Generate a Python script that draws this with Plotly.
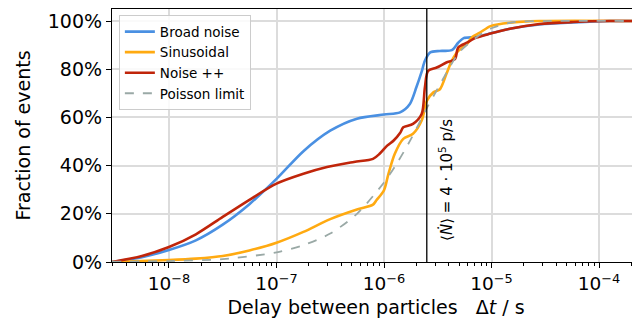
import plotly.graph_objects as go

# ---- data (delay in seconds, fraction of events) ----
broad_t = [2.95e-9, 5.6e-9, 1.0e-8, 1.78e-8, 3.16e-8, 5.6e-8, 1.0e-7, 1.78e-7, 3.16e-7,
           5.6e-7, 1.0e-6, 1.41e-6, 1.74e-6, 2.0e-6, 2.24e-6, 2.4e-6, 2.69e-6, 3.3e-6,
           4.27e-6, 4.9e-6, 5.5e-6, 7.2e-6, 1.05e-5, 1.48e-5, 2.8e-5, 5.75e-5, 1.26e-4, 2.5e-4]
broad_f = [0.0, 0.02, 0.05, 0.09, 0.155, 0.24, 0.345, 0.46, 0.545,
           0.595, 0.612, 0.621, 0.656, 0.725, 0.79, 0.835, 0.87, 0.876,
           0.879, 0.91, 0.929, 0.934, 0.952, 0.968, 0.986, 0.994, 1.0, 1.0]

sin_t = [2.95e-9, 1.0e-8, 1.78e-8, 3.16e-8, 5.6e-8, 1.0e-7, 1.78e-7, 3.16e-7, 5.6e-7,
         7.9e-7, 8.5e-7, 1.0e-6, 1.1e-6, 1.26e-6, 1.51e-6, 1.86e-6, 2.24e-6, 2.51e-6, 2.88e-6,
         3.31e-6, 3.8e-6, 4.27e-6, 4.9e-6, 5.9e-6, 6.6e-6, 7.8e-6, 9.8e-6, 1.48e-5, 2.8e-5, 2.5e-4]
sin_f = [0.0, 0.008, 0.014, 0.025, 0.048, 0.08, 0.125, 0.178, 0.218,
         0.238, 0.256, 0.298, 0.366, 0.449, 0.511, 0.532, 0.587, 0.67, 0.704,
         0.717, 0.78, 0.835, 0.876, 0.904, 0.934, 0.952, 0.979, 0.993, 1.0, 1.0]

noise_t = [2.95e-9, 5.6e-9, 1.0e-8, 1.78e-8, 3.16e-8, 5.6e-8, 1.0e-7, 1.78e-7, 2.95e-7,
           5.25e-7, 7.9e-7, 9.1e-7, 1.07e-6, 1.23e-6, 1.41e-6, 1.51e-6, 1.86e-6, 2.24e-6, 2.4e-6,
           2.57e-6, 3.09e-6, 3.8e-6, 4.57e-6, 4.9e-6, 5.9e-6, 7.2e-6, 9.8e-6, 1.48e-5, 2.8e-5,
           5.75e-5, 1.26e-4, 2.5e-4]
noise_f = [0.0, 0.025, 0.062, 0.115, 0.187, 0.258, 0.325, 0.366, 0.394,
           0.415, 0.428, 0.449, 0.483, 0.504, 0.535, 0.559, 0.573, 0.614, 0.724,
           0.793, 0.807, 0.828, 0.842, 0.89, 0.91, 0.931, 0.948, 0.968, 0.988,
           0.996, 1.0, 1.0]

poisson_t = [2.95e-9, 1.0e-8, 3.16e-8, 1.0e-7, 1.78e-7, 3.16e-7, 5.6e-7, 1.0e-6, 1.32e-6, 1.78e-6,
             2.51e-6, 3.16e-6, 3.98e-6, 5.0e-6, 7.1e-6, 1.0e-5, 1.58e-5, 3.16e-5, 2.5e-4]
poisson_f = [0.001, 0.004, 0.012, 0.04, 0.07, 0.118, 0.2, 0.33, 0.41, 0.51,
             0.64, 0.72, 0.80, 0.87, 0.93, 0.97, 0.995, 1.0, 1.0]

rate_t = [2.5e-6, 2.5e-6]   # 1 / (4e5 p/s)
rate_f = [0.0, 1.05]

x_tick_vals = [1e-8, 1e-7, 1e-6, 1e-5, 1e-4]
x_tick_text = ["10<sup>−8</sup>", "10<sup>−7</sup>", "10<sup>−6</sup>", "10<sup>−5</sup>", "10<sup>−4</sup>"]
x_decades = [1e-9, 1e-8, 1e-7, 1e-6, 1e-5, 1e-4]
x_minor_digits = [2, 3, 4, 5, 6, 7, 8, 9]
y_tick_vals = [0, 0.2, 0.4, 0.6, 0.8, 1.0]
y_tick_text = ["0%", "20%", "40%", "60%", "80%", "100%"]

x_minor_vals = [d * k for d in x_decades for k in x_minor_digits]

FONT = "DejaVu Sans"

fig = go.Figure()
fig.add_trace(go.Scatter(x=broad_t, y=broad_f, mode="lines", name="Broad noise",
                         line=dict(color="#4a90e2", width=2.6, shape="spline", smoothing=0.8)))
fig.add_trace(go.Scatter(x=sin_t, y=sin_f, mode="lines", name="Sinusoidal",
                         line=dict(color="#ffaa11", width=2.6, shape="spline", smoothing=0.8)))
fig.add_trace(go.Scatter(x=noise_t, y=noise_f, mode="lines", name="Noise ++",
                         line=dict(color="#c0250a", width=2.6, shape="spline", smoothing=0.8)))
fig.add_trace(go.Scatter(x=poisson_t, y=poisson_f, mode="lines", name="Poisson limit",
                         line=dict(color="#9aa9a6", width=1.8, dash="dash", shape="spline", smoothing=0.8)))
fig.add_trace(go.Scatter(x=rate_t, y=rate_f, mode="lines", showlegend=False,
                         line=dict(color="black", width=1.3), hoverinfo="skip"))

fig.add_annotation(x=-5.602, y=0.34, xref="x", yref="y", xanchor="left", yanchor="middle",
                   xshift=7, textangle=-90, showarrow=False,
                   text="⟨<i>Ṅ</i>⟩ = 4 · 10<sup>5</sup> p/s",
                   font=dict(family=FONT, size=15, color="black"))

# the page body adds an 8 px offset, so the figure is sized to fill the rest of the window
fig.update_layout(
    width=632, height=320,
    margin=dict(l=104, r=0, t=1, b=66, autoexpand=False),
    paper_bgcolor="white", plot_bgcolor="white",
    font=dict(family=FONT, size=19, color="black"),
    legend=dict(x=0.013, y=0.975, xanchor="left", yanchor="top",
                bgcolor="rgba(255,255,255,0.85)", bordercolor="#cccccc", borderwidth=1,
                font=dict(family=FONT, size=13.5), tracegroupgap=0, itemwidth=30),
)
fig.update_xaxes(type="log", range=[-8.53, -3.619], automargin=False,
                 tickvals=x_tick_vals, ticktext=x_tick_text, tickfont=dict(size=18.5),
                 showgrid=True, gridcolor="#dcdcdc", gridwidth=1.5,
                 showline=True, linecolor="black", linewidth=1.2, mirror=True,
                 ticks="outside", ticklen=5, tickcolor="black",
                 minor=dict(tickvals=x_minor_vals, ticks="outside", ticklen=3,
                            tickcolor="black", tickwidth=0.8, showgrid=False),
                 title=dict(text="Delay between particles\u00a0\u00a0\u00a0Δ<i>t</i> / s",
                            standoff=7, font=dict(size=19)),
                 zeroline=False)
fig.update_yaxes(range=[0, 1.05], automargin=False,
                 tickvals=y_tick_vals, ticktext=y_tick_text, tickfont=dict(size=19),
                 showgrid=True, gridcolor="#dcdcdc", gridwidth=1.5,
                 showline=True, linecolor="black", linewidth=1.2, mirror=True,
                 ticks="outside", ticklen=5, tickcolor="black",
                 title=dict(text="Fraction of events", standoff=12, font=dict(size=19)),
                 zeroline=False)

fig.write_html("out.html")
